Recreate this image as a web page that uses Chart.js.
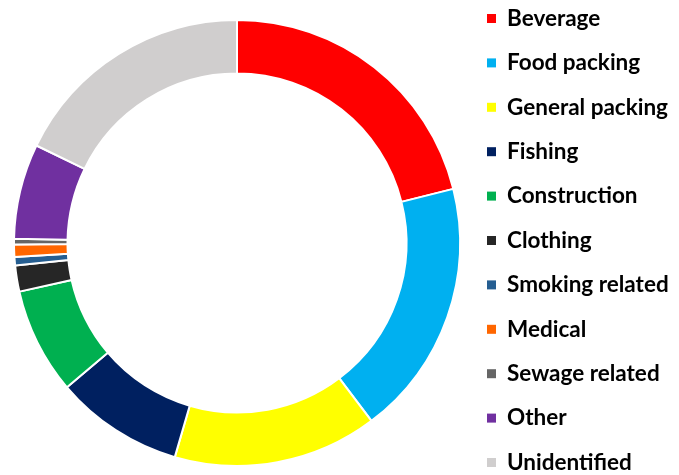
<!DOCTYPE html>
<html>
<head>
<meta charset="utf-8">
<script src="https://cdn.jsdelivr.net/npm/chart.js@4"></script>
<style>
  html, body { margin: 0; padding: 0; background: #fff; }
  #wrap { width: 679px; height: 475px; }
</style>
</head>
<body>
<div id="wrap"><canvas id="WasteChart" width="679" height="475"></canvas></div>
<script>
// share of items by source (%)
const categories = ['Beverage', 'Food packing', 'General packing', 'Fishing', 'Construction',
    'Clothing', 'Smoking related', 'Medical', 'Sewage related', 'Other', 'Unidentified'];
const shares = [21.1, 18.6, 14.8, 9.3, 7.7, 1.9, 0.6, 0.9, 0.4, 6.9, 17.8];
const colours = ['#FF0000', '#00B0F0', '#FFFF00', '#002060', '#00B050',
    '#262626', '#255E91', '#FF6600', '#666666', '#7030A0', '#D0CECE'];

// legend down the right side, one row per category
const sideLegend = {
    id: 'sideLegend',
    afterDraw(chart) {
        const ctx = chart.ctx;
        const labels = chart.data.labels;
        const bg = chart.data.datasets[0].backgroundColor;
        ctx.save();
        ctx.font = 'bold 22.5px Lato';
        ctx.textBaseline = 'middle';
        labels.forEach(function (lbl, i) {
            const y = 18.5 + i * 44.4;
            ctx.fillStyle = bg[i];
            ctx.fillRect(487, y - 4.5, 9, 9);
            ctx.fillStyle = '#000';
            ctx.fillText(lbl, 507, y);
        });
        ctx.restore();
    }
};

const ctx1 = document.getElementById('WasteChart');

new Chart(ctx1, {
    type: 'doughnut',
    data: {
        labels: categories,
        datasets: [{
            data: shares,
            backgroundColor: colours,
            borderColor: '#ffffff',
            borderWidth: 2,
            hoverOffset: 0,
            offset: 0
        }]
    },
    options: {
        responsive: false,
        animation: false,
        cutout: '76%',
        layout: { padding: { left: 13, top: 19, right: 218, bottom: 8 } },
        plugins: {
            legend: { display: false },
            tooltip: { enabled: false }
        }
    },
    plugins: [sideLegend]
});
</script>
</body>
</html>
